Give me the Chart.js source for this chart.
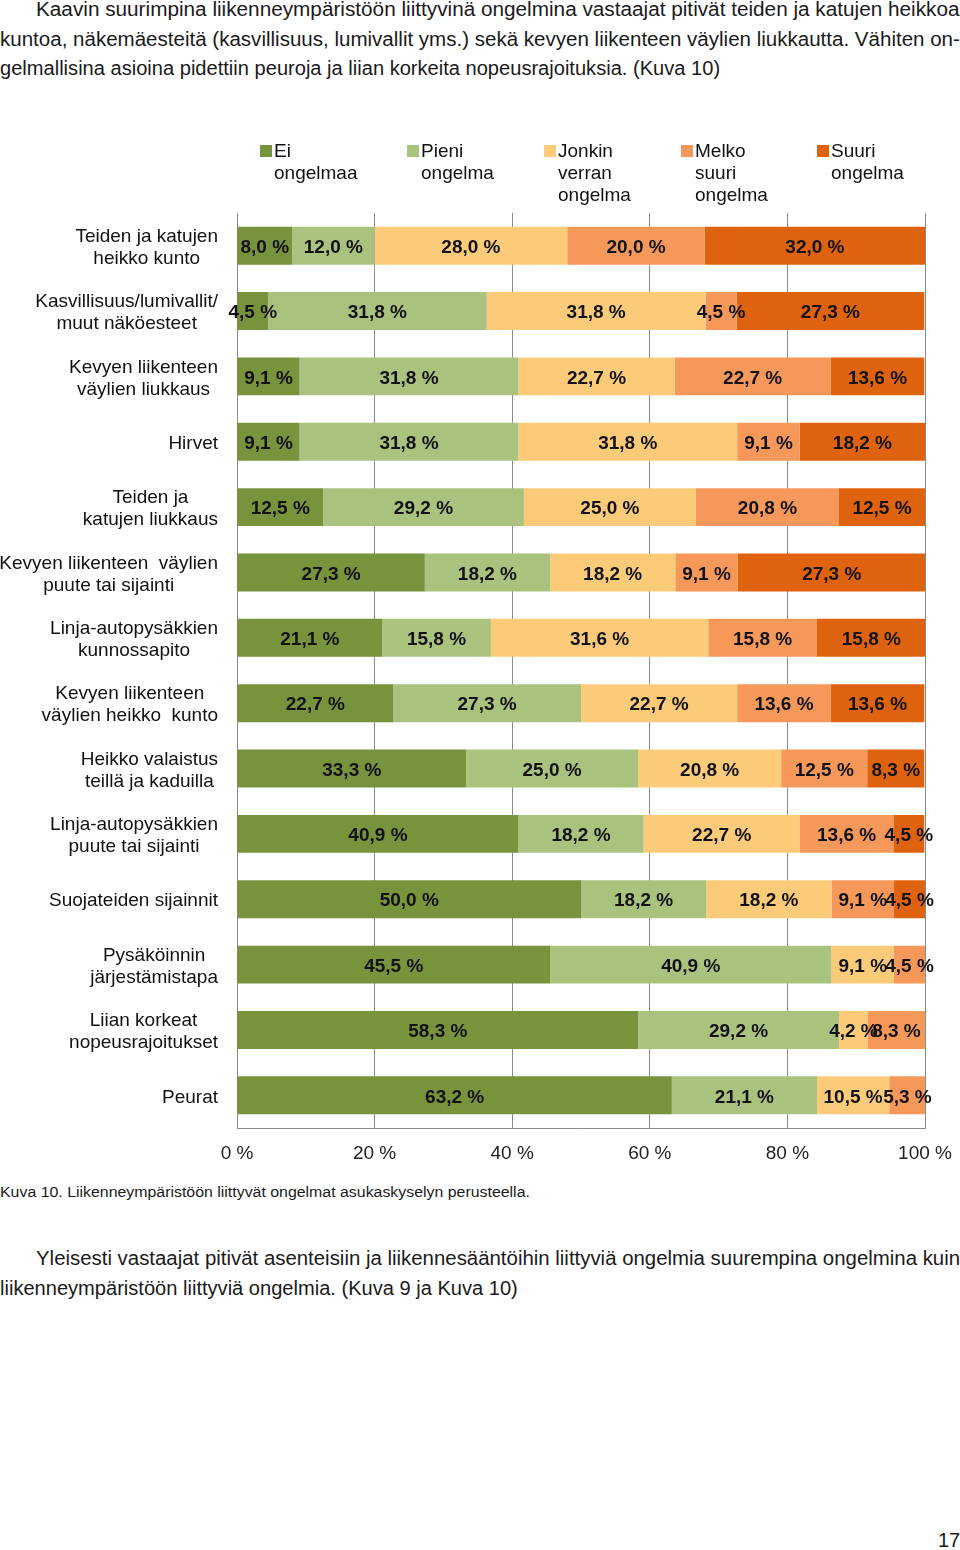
<!DOCTYPE html>
<html>
<head>
<meta charset="utf-8">
<script src="https://cdn.jsdelivr.net/npm/chart.js@4.4.1/dist/chart.umd.min.js"></script>
<style>
  html, body { margin: 0; padding: 0; background: #fff; }
  body { width: 960px; height: 1550px; position: relative; overflow: hidden;
         font-family: "Liberation Sans", Arial, sans-serif; color: #1a1a1a; }
  .ln { position: absolute; white-space: nowrap; transform-origin: 0 50%; }
  .p { font-size: 20px; height: 29px; line-height: 29px; }
  .cap { font-size: 14px; height: 18px; line-height: 18px; }
  #chartWrap { position: absolute; left: 0; top: 100px; width: 960px; height: 1080px; }
</style>
</head>
<body>
<div class="ln p" style="left:36px;top:-5px" data-w="924">Kaavin suurimpina liikenneympäristöön liittyvinä ongelmina vastaajat pitivät teiden ja katujen heikkoa</div>
<div class="ln p" style="left:0;top:25px" data-w="960">kuntoa, näkemäesteitä (kasvillisuus, lumivallit yms.) sekä kevyen liikenteen väylien liukkautta. Vähiten on-</div>
<div class="ln p" style="left:0;top:54px" data-w="720">gelmallisina asioina pidettiin peuroja ja liian korkeita nopeusrajoituksia. (Kuva 10)</div>

<div id="chartWrap"><canvas id="c" width="960" height="1080"></canvas></div>

<div class="ln cap" style="left:0;top:1183px" data-w="530">Kuva 10. Liikenneympäristöön liittyvät ongelmat asukaskyselyn perusteella.</div>
<div class="ln p" style="left:36px;top:1244px" data-w="924">Yleisesti vastaajat pitivät asenteisiin ja liikennesääntöihin liittyviä ongelmia suurempina ongelmina kuin</div>
<div class="ln p" style="left:0;top:1274px" data-w="518">liikenneympäristöön liittyviä ongelmia. (Kuva 9 ja Kuva 10)</div>
<div class="ln p" style="left:938px;top:1526px" data-w="22">17</div>

<script>
// ---- data ----
const categories = [
  ["Teiden ja katujen", "heikko kunto"],
  ["Kasvillisuus/lumivallit/", "muut näköesteet"],
  ["Kevyen liikenteen", "väylien liukkaus"],
  ["Hirvet"],
  ["Teiden ja", "katujen liukkaus"],
  ["Kevyen liikenteen  väylien", "puute tai sijainti"],
  ["Linja-autopysäkkien", "kunnossapito"],
  ["Kevyen liikenteen", "väylien heikko  kunto"],
  ["Heikko valaistus", "teillä ja kaduilla"],
  ["Linja-autopysäkkien", "puute tai sijainti"],
  ["Suojateiden sijainnit"],
  ["Pysäköinnin", "järjestämistapa"],
  ["Liian korkeat", "nopeusrajoitukset"],
  ["Peurat"]
];
const seriesNames = [
  ["Ei", "ongelmaa"],
  ["Pieni", "ongelma"],
  ["Jonkin", "verran", "ongelma"],
  ["Melko", "suuri", "ongelma"],
  ["Suuri", "ongelma"]
];
const eiOngelmaa    = [8.0, 4.5, 9.1, 9.1, 12.5, 27.3, 21.1, 22.7, 33.3, 40.9, 50.0, 45.5, 58.3, 63.2];
const pieniOngelma  = [12.0, 31.8, 31.8, 31.8, 29.2, 18.2, 15.8, 27.3, 25.0, 18.2, 18.2, 40.9, 29.2, 21.1];
const jonkinVerran  = [28.0, 31.8, 22.7, 31.8, 25.0, 18.2, 31.6, 22.7, 20.8, 22.7, 18.2, 9.1, 4.2, 10.5];
const melkoSuuri    = [20.0, 4.5, 22.7, 9.1, 20.8, 9.1, 15.8, 13.6, 12.5, 13.6, 9.1, 4.5, 8.3, 5.3];
const suuriOngelma  = [32.0, 27.3, 13.6, 18.2, 12.5, 27.3, 15.8, 13.6, 8.3, 4.5, 4.5, 0, 0, 0];
const xTicks = [0, 20, 40, 60, 80, 100];

const colors = ["#77933c", "#a9c37f", "#fbcb7a", "#f5985a", "#df630f"];
const seriesData = [eiOngelmaa, pieniOngelma, jonkinVerran, melkoSuuri, suuriOngelma];

// ---- text line fitting ----
document.querySelectorAll('.ln').forEach(el => {
  const target = parseFloat(el.dataset.w);
  const w = el.scrollWidth;
  if (w > 0) el.style.transform = 'scaleX(' + (target / w) + ')';
});

const FONT = '"Liberation Sans", Arial, sans-serif';

const valueLabels = {
  id: 'valueLabels',
  afterDatasetsDraw(chart) {
    const ctx = chart.ctx;
    ctx.save();
    ctx.font = 'bold 19px ' + FONT;
    ctx.fillStyle = '#111';
    ctx.textAlign = 'center';
    ctx.textBaseline = 'middle';
    chart.data.datasets.forEach((ds, di) => {
      const meta = chart.getDatasetMeta(di);
      meta.data.forEach((bar, i) => {
        const v = ds.data[i];
        if (!v) return;
        const p = bar.getProps(['x', 'base', 'y'], true);
        const cx = (p.x + p.base) / 2;
        ctx.fillText(v.toFixed(1).replace('.', ',') + ' %', cx, p.y + 2);
      });
    });
    ctx.restore();
  }
};

const catLabels = {
  id: 'catLabels',
  afterDraw(chart) {
    const ctx = chart.ctx;
    const yScale = chart.scales.y;
    ctx.save();
    ctx.font = '19px ' + FONT;
    ctx.fillStyle = '#111';
    ctx.textAlign = 'center';
    ctx.textBaseline = 'middle';
    const right = 218, lh = 22;
    categories.forEach((lines, i) => {
      const cy = yScale.getPixelForValue(i) + 2;
      const maxW = Math.max(...lines.map(l => ctx.measureText(l).width));
      const cx = right - maxW / 2;
      const y0 = cy - (lines.length - 1) * lh / 2;
      lines.forEach((l, k) => ctx.fillText(l, cx, y0 + k * lh));
    });
    ctx.restore();
  }
};

const legendPlugin = {
  id: 'customLegend',
  afterDraw(chart) {
    const ctx = chart.ctx;
    ctx.save();
    ctx.font = '19px ' + FONT;
    ctx.textBaseline = 'middle';
    ctx.textAlign = 'left';
    const xs = [260, 407, 544, 681, 817], y0 = 52, lh = 22;
    seriesNames.forEach((lines, i) => {
      const x = xs[i];
      ctx.fillStyle = colors[i];
      ctx.fillRect(x, y0 - 7, 12, 12);
      ctx.fillStyle = '#111';
      lines.forEach((l, k) => ctx.fillText(l, x + 14, y0 + k * lh));
    });
    ctx.restore();
  }
};

new Chart(document.getElementById('c'), {
  type: 'bar',
  data: {
    labels: categories.map(c => c.join(' ')),
    datasets: seriesData.map((d, i) => ({
      label: seriesNames[i].join(' '),
      data: d,
      backgroundColor: colors[i],
      borderWidth: 0,
      categoryPercentage: 0.58,
      barPercentage: 1.0
    }))
  },
  options: {
    indexAxis: 'y',
    responsive: false,
    animation: false,
    devicePixelRatio: 1,
    layout: { padding: { left: 237, right: 35, top: 113, bottom: 0 } },
    plugins: { legend: { display: false }, tooltip: { enabled: false } },
    scales: {
      x: {
        stacked: true, min: 0, max: 100,
        afterBuildTicks: s => { s.ticks = xTicks.map(v => ({ value: v })); },
        afterFit: s => { s.height = 52; s.paddingLeft = 0; s.paddingRight = 0; },
        grid: { color: '#8a8a8a', lineWidth: 1, drawTicks: false },
        border: { display: true, color: '#8a8a8a', width: 1 },
        ticks: {
          padding: 14,
          color: '#222',
          font: { family: FONT, size: 19 },
          callback: v => v + ' %',
          maxRotation: 0
        }
      },
      y: {
        stacked: true,
        afterFit: s => { s.width = 0; },
        grid: { display: false },
        border: { display: true, color: '#8a8a8a', width: 1 },
        ticks: { display: false }
      }
    }
  },
  plugins: [valueLabels, catLabels, legendPlugin]
});
</script>
</body>
</html>
